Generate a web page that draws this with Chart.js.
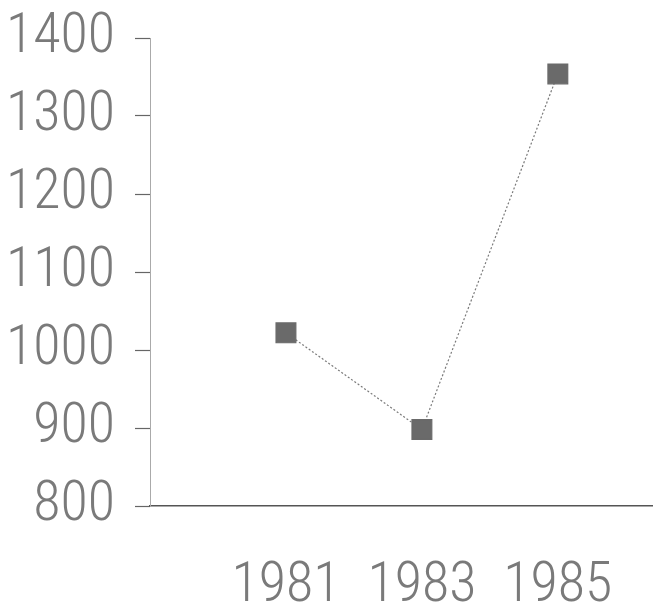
<head>
    <script src="https://cdn.jsdelivr.net/npm/chart.js"></script>
    <style>
        html, body { margin: 0; background: #fff; overflow: hidden; }
        #box { width: 653px; height: 612px; }
        canvas { display: block; }
    </style>
</head>
<body>
    <div id="box"><canvas id="myChart"></canvas></div>
    <script>
        const years = [1981, 1983, 1985]
        const values = [1022, 898, 1354]
        const yTicks = [800, 900, 1000, 1100, 1200, 1300, 1400]

        // tall narrow gray digits, like the old dot matrix print
        const family = "'Roboto Condensed', 'DejaVu Sans Condensed', sans-serif"
        const ink = '#7a7a7a'

        const ctx = document.getElementById('myChart')
        const myChart = new Chart(ctx, {
            type: 'line',
            data: {
                datasets: [{
                    data: years.map((y, i) => ({x: y, y: values[i]})),
                    borderColor: '#7a7a7a',
                    borderWidth: 1.2,
                    borderDash: [2, 2],
                    pointStyle: 'rect',
                    pointRadius: 14,
                    pointBackgroundColor: '#6a6a6a',
                    pointBorderColor: '#6a6a6a',
                    tension: 0
                }]
            },
            options: {
                responsive: true,
                maintainAspectRatio: false,
                animation: false,
                // no extra room for the point markers, the baseline runs to the edge
                layout: {autoPadding: false, padding: {top: 38, right: 0, left: 0, bottom: 0}},
                plugins: {legend: {display: false}, tooltip: {enabled: false}},
                scales: {
                    x: {
                        type: 'linear',
                        min: 1979,
                        max: 1986.4,
                        afterBuildTicks: (s) => { s.ticks = years.map(v => ({value: v})) },
                        afterFit: (s) => { s.height = 106; s.paddingLeft = 0; s.paddingRight = 0 },
                        grid: {drawOnChartArea: false, drawTicks: true, tickLength: 53, tickColor: 'rgba(0,0,0,0)'},
                        border: {color: '#555', width: 1.5},
                        ticks: {color: ink, font: {family: family, size: 56, weight: 300, lineHeight: 1}, padding: 0, callback: v => String(v)}
                    },
                    y: {
                        min: 800,
                        max: 1400,
                        afterBuildTicks: (s) => { s.ticks = yTicks.map(v => ({value: v})) },
                        afterFit: (s) => { s.width = 150 },
                        grid: {drawOnChartArea: false, tickLength: 15, color: '#666', tickWidth: 1.2},
                        border: {color: '#aaa', width: 1, dash: [1, 2]},
                        ticks: {color: ink, font: {family: family, size: 56, weight: 300, lineHeight: 0.3}, padding: 20, callback: v => String(v)}
                    }
                }
            }
        })
    </script>
</body>
